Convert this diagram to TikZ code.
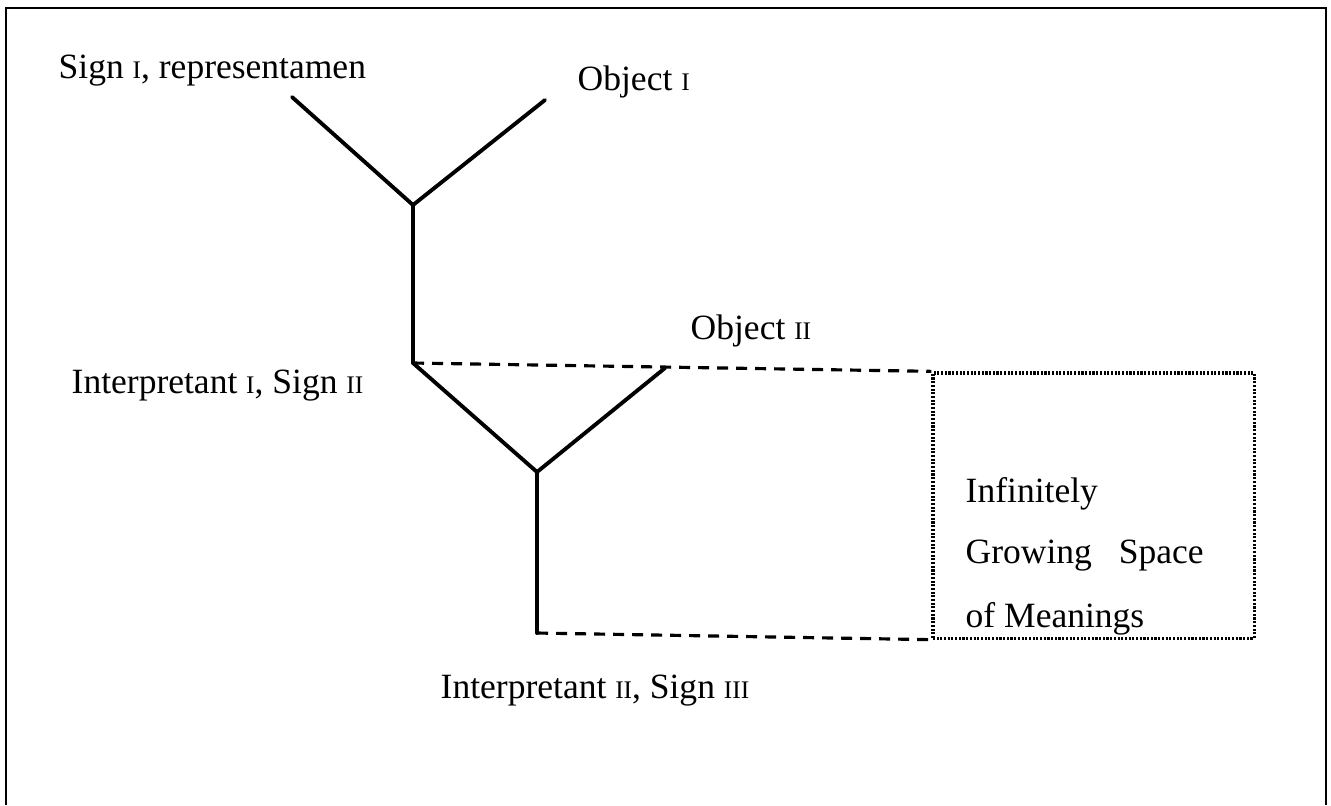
\documentclass[tikz,border=0pt]{standalone}
\usepackage{fontspec}
\setmainfont{Liberation Serif}
\usetikzlibrary{positioning}
\newcommand{\numsub}[1]{{\fontsize{7.2}{8}\selectfont #1}}
\tikzset{
  stem/.style={line width=1.1pt, color=black, line cap=round},
  link/.style={line width=0.9pt, color=black, dash pattern=on 0.11cm off 0.08cm},
  lbl/.style={inner sep=0pt, anchor=base west, font=\fontsize{10.1}{17.8}\selectfont},
  spacebox/.style={draw, line width=0.9pt, dash pattern=on 0.6pt off 0.45pt,
    minimum width=3.21cm, minimum height=2.65cm, inner sep=0pt}
}

\begin{document}
\begin{tikzpicture}[x=0.01cm, y=-0.01cm]
\useasboundingbox (0,0) rectangle (1331,805);
% frame
\draw[line width=0.8pt] (6,805) -- (6,8) -- (1326,8) -- (1326,805);

%--- first triad ---
\coordinate (signend) at (292,97);
\coordinate (obj1end) at (545,100);
\coordinate (fork1) at (413,205);
\coordinate (interp1) at (413,363);
\draw[stem] (signend) -- (fork1);
\draw[stem] (obj1end) -- (fork1);
\draw[stem] (fork1) -- (interp1);

%--- second triad ---
\coordinate (obj2end) at (665,368);
\coordinate (fork2) at (537,472);
\coordinate (interp2) at (537,633);
\draw[stem] (interp1) -- (fork2);
\draw[stem] (obj2end) -- (fork2);
\draw[stem] (fork2) -- (interp2);

% space of meanings
\node[spacebox] (space) at (1093.5,505.5) {};
\draw[link] (interp1) -- (space.north west);
\draw[link] (interp2) -- (space.south west);

% labels
\node[lbl] (sign1) at (58,78) {Sign \numsub{I}, representamen};
\node[lbl] (object1) at (577,90) {Object \numsub{I}};
\node[lbl] (object2) at (690,339) {Object \numsub{II}};
\node[lbl] (interp1lbl) at (71,393) {Interpretant \numsub{I}, Sign \numsub{II}};
\node[lbl] (interp2lbl) at (440,698) {Interpretant \numsub{II}, Sign \numsub{III}};
\node[lbl] (space1) at (965,502) {Infinitely};
\node[lbl] (space2) at (965,563) {Growing\hspace{0.18cm} Space};
\node[lbl] (space3) at (965,627) {of Meanings};
\end{tikzpicture}
\end{document}
